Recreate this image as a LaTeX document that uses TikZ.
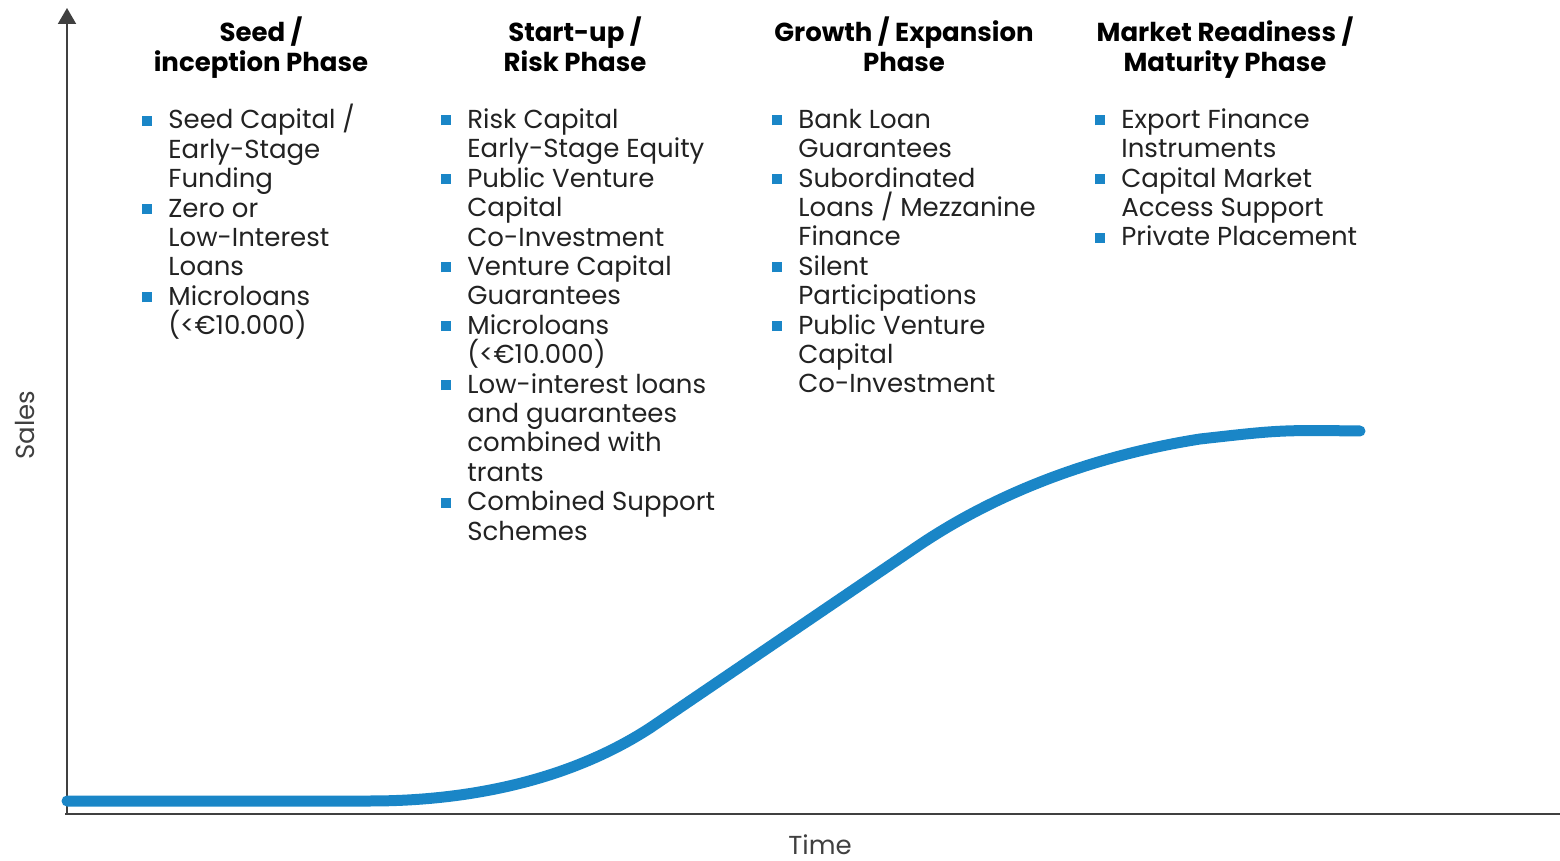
\documentclass[tikz,border=0pt]{standalone}
\usepackage{fontspec}
\setmainfont{Poppins}
\usepackage{tikz}
\usetikzlibrary{arrows.meta}
\usepackage{xcolor}

\definecolor{curveblue}{HTML}{1A86C7}
\definecolor{axisgray}{HTML}{404040}
\definecolor{textgray}{HTML}{222222}
\newcommand{\bul}{\llap{\textcolor{curveblue}{\rule[1.5pt]{5pt}{5pt}}\hspace{8pt}}}
\newcommand{\firstln}{\rule{0pt}{12pt}}

\begin{document}
\begin{tikzpicture}[x=0.5pt,y=-0.5pt,
		phase/.style={font=\fontsize{13}{15}\selectfont\bfseries,align=center,text=black,inner sep=0pt,anchor=north},
		items/.style={font=\fontsize{13}{14.7}\selectfont,align=left,text=textgray,anchor=north west,inner sep=0pt},
		axislabel/.style={font=\fontsize{13}{15}\selectfont,text=axisgray,inner sep=0pt}]
				\useasboundingbox (0,0) rectangle (1560,861);
				
				\coordinate(origin) at (67,814);
				\coordinate(ytop) at (67,8);
				\coordinate(xend) at (1560,814);
				
				\draw[axisgray,line width=1pt,-{Triangle[width=9pt,length=8pt]}] (origin) to (ytop);
				\draw[axisgray,line width=1pt] (65,814) to (xend);
				
				\node(sales) at (25,425)[axislabel,rotate=90]{Sales};
				\node(time) at (820,845)[axislabel]{Time};
				
				\node(seed) at (261,16)[phase]{Seed /\\inception Phase};
				\node(startup) at (575,16)[phase]{Start-up /\\Risk Phase};
				\node(growth) at (904,16)[phase]{Growth / Expansion\\Phase};
				\node(market) at (1225,16)[phase]{Market Readiness /\\Maturity Phase};
				
				\node(seedlist) at (168,104)[items]{\firstln\bul Seed Capital /\\Early-Stage\\Funding\\\bul Zero or\\Low-Interest\\Loans\\\bul Microloans\\(<€10.000)};
				\node(startuplist) at (467,104)[items]{\firstln\bul Risk Capital\\Early-Stage Equity\\\bul Public Venture\\Capital\\Co-Investment\\\bul Venture Capital\\Guarantees\\\bul Microloans\\(<€10.000)\\\bul Low-interest loans\\and guarantees\\combined with\\trants\\\bul Combined Support\\Schemes};
				\node(growthlist) at (798,104)[items]{\firstln\bul Bank Loan\\Guarantees\\\bul Subordinated\\Loans / Mezzanine\\Finance\\\bul Silent\\Participations\\\bul Public Venture\\Capital\\Co-Investment};
				\node(marketlist) at (1121,104)[items]{\firstln\bul Export Finance\\Instruments\\\bul Capital Market\\Access Support\\\bul Private Placement};
				
				% sales curve
				\draw[curveblue,line width=5.5pt,line cap=round]
					(67,801) -- (370,801) .. controls (470,801) and (570,780) .. (650,728)
					-- (915,548) .. controls (985,500) and (1080,458) .. (1200,439)
					.. controls (1280,430) .. (1360,431);
				
			\end{tikzpicture}
\end{document}
